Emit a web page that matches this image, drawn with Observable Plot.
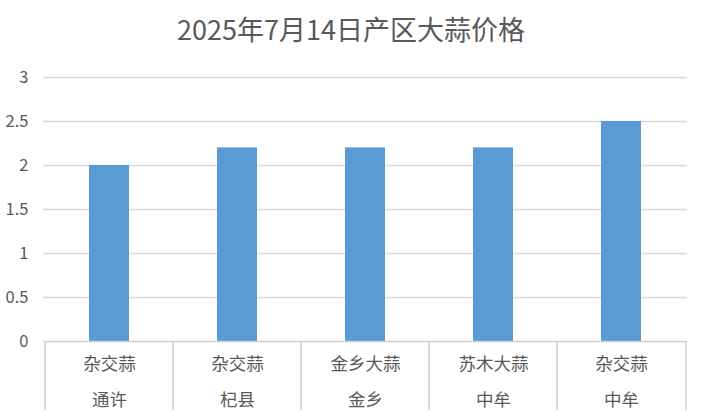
<!DOCTYPE html>
<html>
<head>
<meta charset="utf-8">
<script src="https://cdn.jsdelivr.net/npm/d3@7"></script>
<script src="https://cdn.jsdelivr.net/npm/@observablehq/plot@0.6"></script>
<style>
  body { margin: 0; background: #fff; font-family: "Noto Sans CJK SC", sans-serif; }
  #title { height: 58px; line-height: 58px; text-align: center; font-size: 27px; color: #595959; width: 702px; }
</style>
</head>
<body>
<div id="title">2025年7月14日产区大蒜价格</div>
<div id="chart"></div>
<script>
const varieties = ["杂交蒜", "杂交蒜", "金乡大蒜", "苏木大蒜", "杂交蒜"];
const regions = ["通许", "杞县", "金乡", "中牟", "中牟"];
const prices = [2.0, 2.2, 2.2, 2.2, 2.5];
const yTicks = [0, 0.5, 1, 1.5, 2, 2.5, 3];

const data = prices.map((p, i) => ({key: String(i), variety: varieties[i], region: regions[i], price: p}));
const keys = data.map(d => d.key);

const W = 702, H = 360, mL = 43, mR = 15, mT = 19, mB = 77;
const step = (W - mL - mR) / keys.length;
const ink = "#595959";

const chart = Plot.plot({
  width: W, height: H,
  marginLeft: mL, marginRight: mR, marginTop: mT, marginBottom: mB,
  style: {fontFamily: "'Noto Sans CJK SC', sans-serif", color: ink, background: "#fff"},
  x: {domain: keys, paddingInner: 0.69, paddingOuter: 0.345, axis: null},
  y: {domain: [0, 3], ticks: yTicks, axis: null},
  marks: [
    Plot.ruleY(yTicks.filter(t => t > 0), {stroke: "#d9d9d9", strokeWidth: 1.5}),
    Plot.barY(data, {x: "key", y: "price", fill: "#5b9bd5"}),
    Plot.ruleY([0], {stroke: "#d0d0d0", strokeWidth: 1.5}),
    Plot.axisY({ticks: yTicks, tickSize: 0, tickPadding: 15, fontSize: 16.5, label: null, tickFormat: d => String(d)}),
    Plot.axisX({ticks: keys, tickSize: 69, tickFormat: null, label: null, dx: -step / 2, stroke: "#d0d0d0", strokeWidth: 1.5}),
    Plot.axisX({ticks: [keys[keys.length - 1]], tickSize: 69, tickFormat: null, label: null, dx: step / 2, stroke: "#d0d0d0", strokeWidth: 1.5}),
    Plot.axisX({ticks: keys, tickSize: 0, tickPadding: 16, fontSize: 17.5, label: null, tickFormat: k => varieties[+k]}),
    Plot.axisX({ticks: keys, tickSize: 0, tickPadding: 52, fontSize: 17.5, label: null, tickFormat: k => regions[+k]})
  ]
});
document.getElementById("chart").appendChild(chart);
</script>
</body>
</html>
